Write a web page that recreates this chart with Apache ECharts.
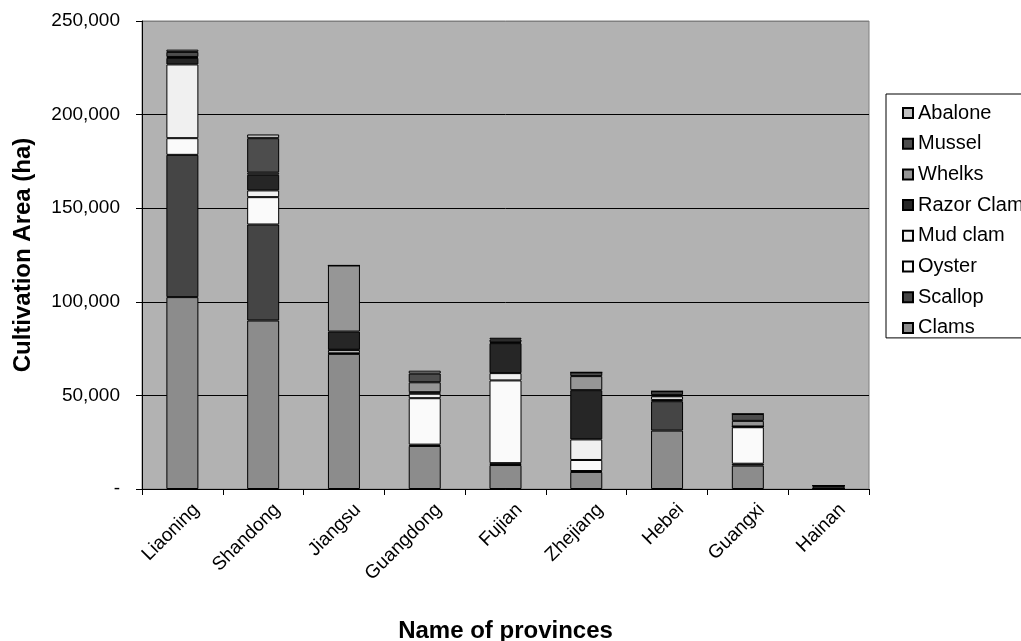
<!DOCTYPE html>
<html>
<head>
<meta charset="utf-8">
<script src="https://cdn.jsdelivr.net/npm/echarts@6/dist/echarts.min.js"></script>
<style>
  html, body { margin: 0; padding: 0; background: #ffffff; }
  #chart { width: 1021px; height: 641px; }
</style>
</head>
<body>
<div id="chart"></div>
<script>
// Cultivation area (ha) of shellfish species by province
const provinces = ['Liaoning', 'Shandong', 'Jiangsu', 'Guangdong', 'Fujian', 'Zhejiang', 'Hebei', 'Guangxi', 'Hainan'];

const clams     = [102500, 90000, 72200, 23000, 12800,  9100, 31200, 12500,    0];
const scallop   = [ 76000, 51300,   300,   700,  1000,   500, 15700,  1000,    0];
const oyster    = [  8900, 14600,  1600, 24800, 44200,  5900,   700, 19500,    0];
const mudClam   = [ 39400,  3600,   300,  2400,  3900, 11000,  1900,   400,    0];
const razorClam = [  3500,  8400,  9700,   800, 16000, 26300,   500,     0, 1800];
const whelks    = [   500,  1100, 35300,  5300,   500,  7500,   300,  3000,    0];
const mussel    = [  2700, 18400,     0,  4700,  1500,  2000,  1900,  3700,    0];
const abalone   = [  1200,  2000,     0,  1500,   900,     0,     0,     0,    0];

const yTicks = [0, 50000, 100000, 150000, 200000, 250000];

const seriesDefs = [
  { name: 'Clams',      data: clams,     color: '#8c8c8c' },
  { name: 'Scallop',    data: scallop,   color: '#454545' },
  { name: 'Oyster',     data: oyster,    color: '#fafafa' },
  { name: 'Mud clam',   data: mudClam,   color: '#f0f0f0' },
  { name: 'Razor Clam', data: razorClam, color: '#262626' },
  { name: 'Whelks',     data: whelks,    color: '#969696' },
  { name: 'Mussel',     data: mussel,    color: '#4d4d4d' },
  { name: 'Abalone',    data: abalone,   color: '#c0c0c0' }
];

const FONT = '"Liberation Sans", Arial, sans-serif';

const chart = echarts.init(document.getElementById('chart'), null, { renderer: 'canvas' });

chart.setOption({
  animation: false,
  textStyle: { fontFamily: FONT, color: '#000' },
  grid: {
    left: 142, top: 21, width: 727, height: 468,
    outerBoundsMode: 'none',
    containLabel: false,
    show: true, backgroundColor: '#b2b2b2', borderColor: '#808080', borderWidth: 1
  },
  legend: {
    orient: 'vertical',
    left: 886, top: 94,
    padding: [9, 60, 0, 16],
    itemGap: 10.7,
    itemWidth: 10, itemHeight: 10,
    icon: 'rect',
    backgroundColor: '#ffffff',
    borderColor: '#000000', borderWidth: 1,
    textStyle: { fontFamily: FONT, fontSize: 20, color: '#000', lineHeight: 20 },
    data: seriesDefs.slice().reverse().map(s => s.name)
  },
  xAxis: {
    type: 'category',
    data: provinces,
    name: 'Name of provinces',
    nameLocation: 'middle',
    nameGap: 130,
    nameTextStyle: { fontFamily: FONT, fontSize: 24, fontWeight: 'bold', color: '#000' },
    axisLine: { lineStyle: { color: '#000', width: 1 } },
    axisTick: { show: true, length: 6, lineStyle: { color: '#000' } },
    axisLabel: {
      rotate: 45, fontSize: 19, color: '#000', margin: 4,
      verticalAlign: 'top', padding: [10, 0, 0, 0], interval: 0
    },
    splitLine: { show: false }
  },
  yAxis: {
    type: 'value',
    min: yTicks[0], max: yTicks[yTicks.length - 1], interval: yTicks[1] - yTicks[0],
    name: 'Cultivation Area (ha)',
    nameLocation: 'middle',
    nameGap: 107,
    nameRotate: 90,
    nameTextStyle: { fontFamily: FONT, fontSize: 24, fontWeight: 'bold', color: '#000' },
    axisLine: { show: true, lineStyle: { color: '#000', width: 1 } },
    axisTick: { show: true, length: 6, lineStyle: { color: '#000' } },
    axisLabel: {
      fontSize: 19, color: '#000', margin: 22,
      formatter: v => v === 0 ? '-' : v.toLocaleString('en-US')
    },
    splitLine: { show: true, lineStyle: { color: ['#000', '#000', '#000', '#000', '#000', '#808080'], width: 1 } }
  },
  series: seriesDefs.map(s => ({
    name: s.name,
    type: 'bar',
    stack: 'area',
    barWidth: 32,
    data: s.data,
    itemStyle: { color: s.color, borderColor: '#000', borderWidth: 1 },
    emphasis: { disabled: true }
  }))
});
</script>
</body>
</html>
